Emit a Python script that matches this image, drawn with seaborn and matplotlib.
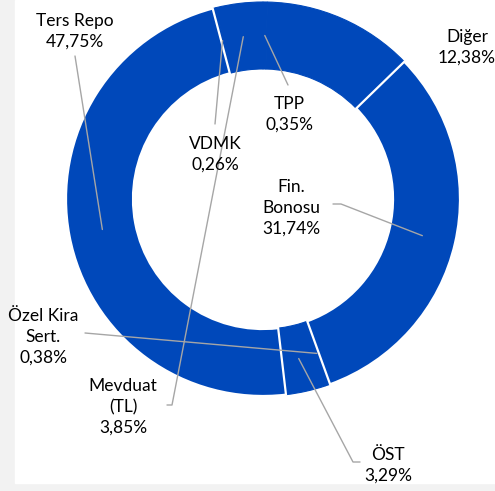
import numpy as np
import matplotlib
matplotlib.use("Agg")
import matplotlib.pyplot as plt
from matplotlib.patches import Rectangle
import seaborn as sns

# shares in clockwise order starting at 12 o'clock
labels = ["TPP", "Diğer", "Fin.\nBonosu", "Özel Kira\nSert.", "ÖST", "Ters Repo", "VDMK", "Mevduat\n(TL)"]
shares = [0.35, 12.38, 31.74, 0.38, 3.29, 47.75, 0.26, 3.85]

sns.set_theme(style="white")
plt.rcParams['font.family'] = ['Lato', 'DejaVu Sans']

W, H = 495, 491
CX, CY, R = 263, 199, 197  # ring centre and radius in pixels


def px(x, y):
    return (x - CX) / R, (CY - y) / R


# label block centres and leader anchors (pixels)
label_pos = [(289, 114), (467, 47), (291, 208), (43, 337), (388, 465),
             (75, 31), (215, 154), (123, 407)]
leader_pts = [[(288, 85)], None, [(333, 204), (341, 204)], [(85, 333)],
              [(360, 462), (353, 462)], [(75, 56)], [(215, 124)],
              [(167, 405), (172, 405)]]

blue = "#0048BA"

fig = plt.figure(figsize=(W / 100, H / 100), dpi=100)
fig.patch.set_facecolor("#F2F2F2")
fig.patches.append(Rectangle((15 / W, 8 / H), 480 / W, 483 / H,
                             transform=fig.transFigure, color="white", zorder=-10))
ax = fig.add_axes([0, 0, 1, 1])
ax.set_facecolor("none")

wedges, _ = ax.pie(shares, startangle=90, counterclock=False, radius=1,
                   colors=[blue] * len(shares),
                   wedgeprops=dict(width=0.34, linewidth=0.8, edgecolor=blue))
# only the two big slices carry a white border
for i in (2, 5):
    wedges[i].set_edgecolor("white")
    wedges[i].set_linewidth(1.6)
    wedges[i].set_zorder(3)

for w, lab, v, pos, pts in zip(wedges, labels, shares, label_pos, leader_pts):
    txt = lab + "\n" + f"{v:.2f}".replace(".", ",") + "%"
    tx, ty = px(*pos)
    ax.text(tx, ty, txt, ha="center", va="center", fontsize=12.5,
            color="black", linespacing=1.38, zorder=5)
    if pts is None:
        continue
    mid = np.deg2rad((w.theta1 + w.theta2) / 2)
    xs = [px(*p)[0] for p in pts] + [0.83 * np.cos(mid)]
    ys = [px(*p)[1] for p in pts] + [0.83 * np.sin(mid)]
    ax.plot(xs, ys, color="#A6A6A6", lw=1, zorder=4)

ax.set_xlim(-CX / R, (W - CX) / R)
ax.set_ylim(-(H - CY) / R, CY / R)
ax.axis("off")

fig.savefig("out.png", dpi=100)
